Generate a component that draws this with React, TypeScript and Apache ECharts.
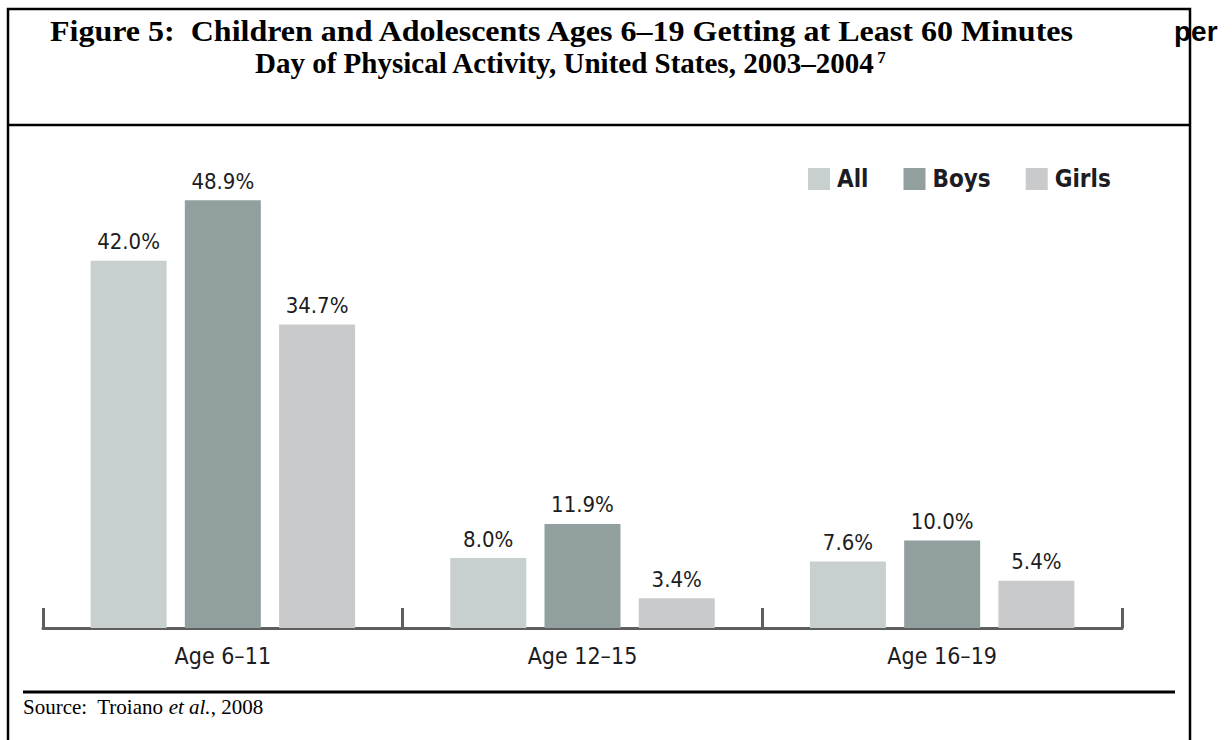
import React, { useEffect, useRef } from "react";
import * as echarts from "echarts";

// Share of children meeting the 60-minute daily activity guideline, by age group
const categories = ["Age 6\u201311", "Age 12\u201315", "Age 16\u201319"];
const seriesNames = ["All", "Boys", "Girls"];
const allValues = [42.0, 8.0, 7.6];
const boysValues = [48.9, 11.9, 10.0];
const girlsValues = [34.7, 3.4, 5.4];

const titleLine1 = "Figure 5:  Children and Adolescents Ages 6\u201319 Getting at Least 60 Minutes";
const titleOverflow = "per";
const titleLine2 = "Day of Physical Activity, United States, 2003\u20132004";
const titleNote = "7";

const COLORS = ["#c7d0cf", "#91a09f", "#c9cacc"];
const CONDENSED = '"Liberation Sans Narrow", "DejaVu Sans Condensed", "Roboto Condensed", Roboto, sans-serif';
const SERIF = '"Liberation Serif", "Times New Roman", serif';
const TITLE_FONT = `bold 30px ${SERIF}`;
const TITLE2_FONT = `bold 29px ${SERIF}`;

function measure(text: string, font: string) {
  const ctx = document.createElement("canvas").getContext("2d")!;
  ctx.font = font;
  return ctx.measureText(text).width;
}

export default function App() {
  const ref = useRef<HTMLDivElement>(null);

  useEffect(() => {
    if (!ref.current) return;
    const chart = echarts.init(ref.current, null, { renderer: "svg" });

    const valueSets = [allValues, boysValues, girlsValues];
    const series = seriesNames.map((name, i) => ({
      name,
      type: "bar" as const,
      data: valueSets[i],
      barWidth: 76,
      barGap: "24%",
      itemStyle: { color: COLORS[i] },
      label: {
        show: true,
        position: "top" as const,
        distance: 8,
        formatter: (p: any) => `${Number(p.value).toFixed(1)}%`,
        fontFamily: CONDENSED,
        fontSize: 22,
        color: "#1c1c22",
      },
    }));

    // First title line is set wide, spanning x = 50 .. 1077
    const line1Start = 50;
    const line1Scale = (1077 - line1Start) / measure(titleLine1, TITLE_FONT);
    const line2Start = 255;
    const line2End = line2Start + measure(titleLine2, TITLE2_FONT);

    chart.setOption({
      animation: false,
      backgroundColor: "#ffffff",
      grid: { left: 43, right: 110, top: 147, bottom: 112 },
      legend: {
        data: seriesNames,
        left: 803,
        top: 162,
        icon: "rect",
        itemWidth: 22,
        itemHeight: 22,
        itemGap: 35,
        textStyle: {
          fontFamily: CONDENSED,
          fontSize: 24,
          fontWeight: "bold",
          color: "#1c1c22",
          padding: [0, 0, 0, 2],
        },
      },
      xAxis: {
        type: "category",
        data: categories,
        axisLine: { show: true, lineStyle: { color: "#5e5e5e", width: 3 } },
        axisTick: {
          show: true,
          inside: true,
          length: 20,
          interval: 0,
          lineStyle: { color: "#5e5e5e", width: 3 },
        },
        axisLabel: {
          margin: 16,
          fontFamily: CONDENSED,
          fontSize: 23,
          color: "#1c1c22",
        },
      },
      yAxis: {
        type: "value",
        min: 0,
        max: 55,
        show: false,
        splitLine: { show: false },
      },
      series,
      graphic: [
        {
          type: "rect",
          silent: true,
          shape: { x: 8, y: 9, width: 1182, height: 760 },
          style: { fill: "none", stroke: "#000", lineWidth: 2.5 },
        },
        {
          type: "line",
          silent: true,
          shape: { x1: 8, y1: 125, x2: 1190, y2: 125 },
          style: { stroke: "#000", lineWidth: 2.5 },
        },
        {
          type: "line",
          silent: true,
          shape: { x1: 23, y1: 692, x2: 1175, y2: 692 },
          style: { stroke: "#000", lineWidth: 3 },
        },
        {
          type: "text",
          x: line1Start,
          y: 31,
          scaleX: line1Scale,
          style: {
            text: titleLine1,
            font: TITLE_FONT,
            fill: "#000",
            textAlign: "left",
            textVerticalAlign: "middle",
          },
        },
        {
          type: "text",
          x: 1174,
          y: 31,
          style: {
            text: titleOverflow,
            font: 'bold 28px "Liberation Sans", Arial, sans-serif',
            fill: "#000",
            textAlign: "left",
            textVerticalAlign: "middle",
          },
        },
        {
          type: "text",
          x: line2Start,
          y: 63,
          style: {
            text: titleLine2,
            font: TITLE2_FONT,
            fill: "#000",
            textAlign: "left",
            textVerticalAlign: "middle",
          },
        },
        {
          type: "text",
          x: line2End + 2,
          y: 57,
          style: {
            text: titleNote,
            font: `bold 17px ${SERIF}`,
            fill: "#000",
            textAlign: "left",
            textVerticalAlign: "middle",
          },
        },
        {
          type: "text",
          x: 23,
          y: 707,
          style: {
            text: "{r|Source:  Troiano }{i|et al.}{r|, 2008}",
            textVerticalAlign: "middle",
            rich: {
              r: { fontFamily: SERIF, fontSize: 21, fill: "#000", color: "#000" },
              i: { fontFamily: SERIF, fontSize: 21, fontStyle: "italic", fill: "#000", color: "#000" },
            },
          },
        },
      ],
    });

    return () => chart.dispose();
  }, []);

  return (
    <div
      ref={ref}
      style={{ position: "absolute", left: 0, top: 0, width: 1232, height: 740 }}
    />
  );
}
